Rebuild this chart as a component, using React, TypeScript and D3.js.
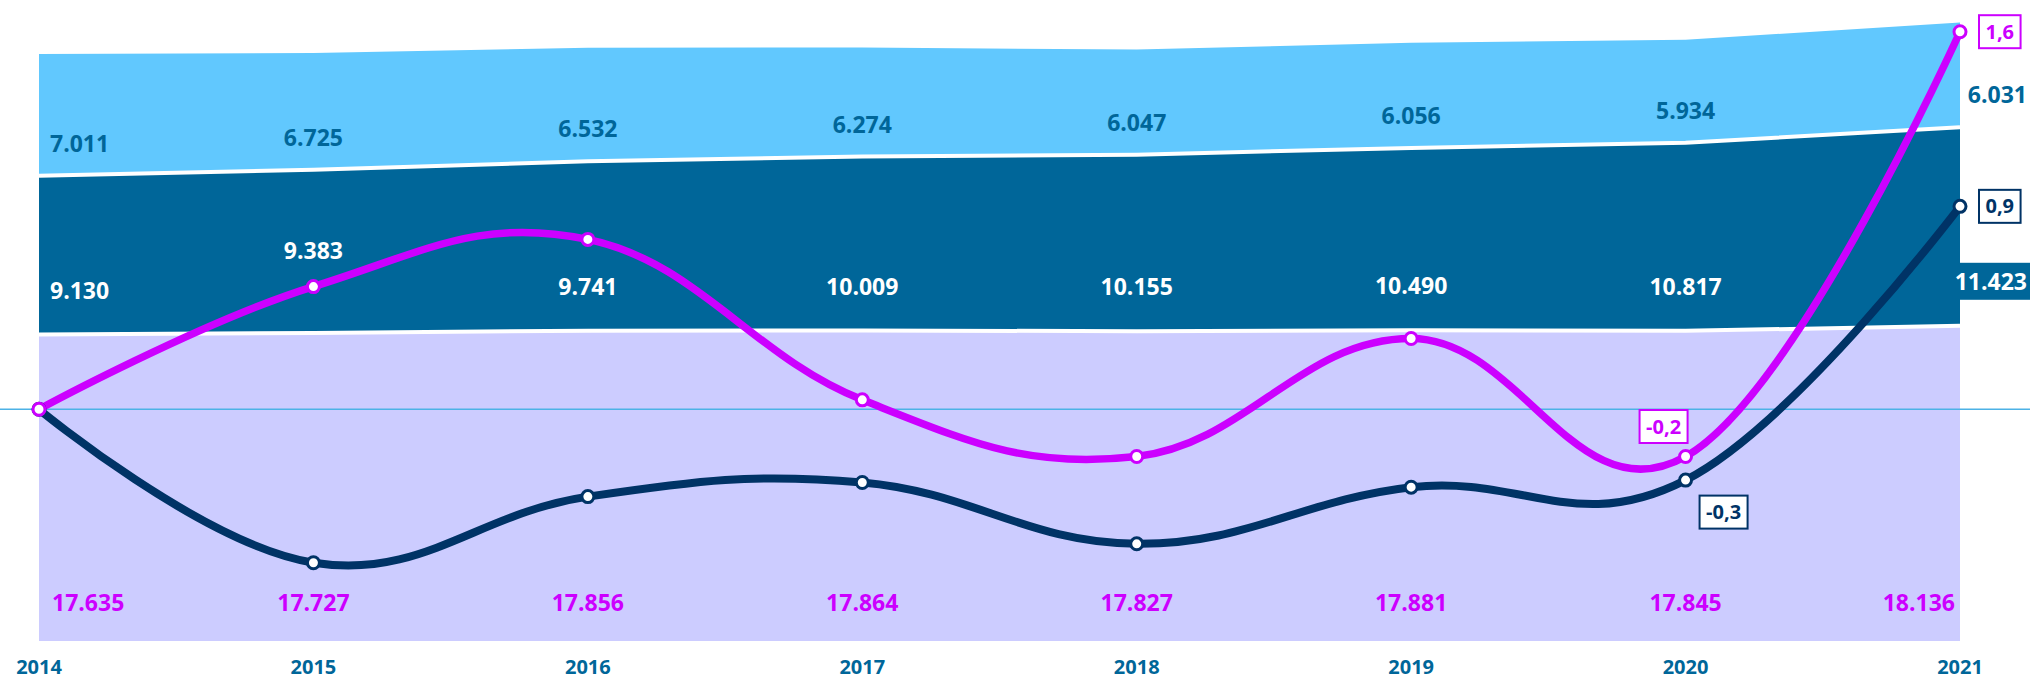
import React from "react";
import * as d3 from "d3";

// ---------- data ----------
const years = ["2014", "2015", "2016", "2017", "2018", "2019", "2020", "2021"];
const bottomValues = [17635, 17727, 17856, 17864, 17827, 17881, 17845, 18136];
const middleValues = [9130, 9383, 9741, 10009, 10155, 10490, 10817, 11423];
const topValues = [7011, 6725, 6532, 6274, 6047, 6056, 5934, 6031];
const rateViolet = [0, 0.52, 0.72, 0.04, -0.2, 0.3, -0.2, 1.6];
const rateNavy = [0, -0.65, -0.37, -0.31, -0.57, -0.33, -0.3, 0.86];
const labeledRateYears = ["2020", "2021"];

// ---------- style ----------
const W = 2030;
const H = 681;
const C_TOP = "#61C8FE";
const C_MID = "#006699";
const C_BOT = "#CCCCFF";
const C_VIOLET = "#CC00FF";
const C_NAVY = "#003366";
const C_ZERO = "#4CB2E6";
const FONT = "'Open Sans', 'DejaVu Sans', sans-serif";

const locale = d3.formatLocale({
  decimal: ",",
  thousands: ".",
  grouping: [3],
  currency: ["", "€"],
  minus: "-",
});
const fmtInt = locale.format(",d");
const fmtRate = locale.format(".1f");

let measureCtx: CanvasRenderingContext2D | null = null;
function textWidth(t: string, size: number, weight = 700) {
  if (!measureCtx) {
    const c = document.createElement("canvas");
    measureCtx = c.getContext("2d");
  }
  if (!measureCtx) return t.length * size * 0.58;
  measureCtx.font = `${weight} ${size}px ${FONT}`;
  return measureCtx.measureText(t).width;
}

export default function App() {
  const x = d3.scalePoint<string>().domain(years).range([39, 1960]);
  const yArea = d3.scaleLinear().domain([0, 36880]).range([641, 0]);
  const zeroY = 409.3;
  const pxPerUnit = 236;
  const yRate = d3
    .scaleLinear()
    .domain([-1, 1.7])
    .range([zeroY + pxPerUnit, zeroY - 1.7 * pxPerUnit]);

  const table = years.map((y, i) => ({
    year: y,
    bottom: bottomValues[i],
    middle: middleValues[i],
    top: topValues[i],
  }));
  const keys = ["bottom", "middle", "top"];
  const stacked = d3.stack<any>().keys(keys)(table);
  const colors: Record<string, string> = { bottom: C_BOT, middle: C_MID, top: C_TOP };

  const area = d3
    .area<any>()
    .x((d) => x(d.data.year)!)
    .y0((d) => yArea(d[0]))
    .y1((d) => yArea(d[1]));
  const topLine = d3
    .line<any>()
    .x((d) => x(d.data.year)!)
    .y((d) => yArea(d[1]));

  const rateLine = d3
    .line<number>()
    .x((_, i) => x(years[i])!)
    .y((d) => yRate(d))
    .curve(d3.curveCardinal.tension(-0.2));

  const lastYear = years[years.length - 1];
  const lastIdx = years.length - 1;
  const FS = 23;
  const FS_BOX = 20;

  // band labels
  const bandLabels: any[] = [];
  years.forEach((yr, i) => {
    const xp = x(yr)!;
    const s0 = stacked[0][i];
    const s1 = stacked[1][i];
    const lavTop = yArea(s0[1]);
    const boundary = yArea(s1[1]);
    const isFirst = i === 0;
    const isLast = i === lastIdx;
    bandLabels.push({
      key: "t" + i,
      text: fmtInt(topValues[i]),
      x: isFirst ? xp + 11 : isLast ? W - 3 : xp,
      y: boundary - 32,
      anchor: isFirst ? "start" : isLast ? "end" : "middle",
      fill: C_MID,
    });
    let my = lavTop - 44;
    const vy = yRate(rateViolet[i]);
    if (Math.abs(vy - my) < 30) my = vy - 36;
    bandLabels.push({
      key: "m" + i,
      text: fmtInt(middleValues[i]),
      x: isFirst ? xp + 11 : isLast ? W - 3 : xp,
      y: my,
      anchor: isFirst ? "start" : isLast ? "end" : "middle",
      fill: "#FFFFFF",
      bg: isLast,
    });
    bandLabels.push({
      key: "b" + i,
      text: fmtInt(bottomValues[i]),
      x: isFirst ? xp + 13 : isLast ? xp - 5 : xp,
      y: yArea(0) - 38,
      anchor: isFirst ? "start" : isLast ? "end" : "middle",
      fill: C_VIOLET,
    });
  });

  // rate boxes
  const boxes: any[] = [];
  const addBox = (series: number[], color: string, yr: string, place: string) => {
    const i = years.indexOf(yr);
    const px = x(yr)!;
    const py = yRate(series[i]);
    const text = fmtRate(series[i]);
    const w = textWidth(text, FS_BOX) + 13;
    const h = 33;
    let bx = px + 19;
    let by = py - h / 2;
    if (place === "aboveLeft") {
      bx = px - 22 - w / 2;
      by = py - 30 - h / 2;
    } else if (place === "belowRight") {
      bx = px + 14;
      by = py + 32 - h / 2;
    }
    boxes.push({ key: color + yr, text, x: bx, y: by, w, h, color });
  };
  labeledRateYears.forEach((yr) => {
    const isLast = yr === lastYear;
    addBox(rateViolet, C_VIOLET, yr, isLast ? "right" : "aboveLeft");
    addBox(rateNavy, C_NAVY, yr, isLast ? "right" : "belowRight");
  });

  return (
    <svg
      width={W}
      height={H}
      style={{ position: "absolute", left: 0, top: 0, background: "#FFFFFF" }}
      fontFamily={FONT}
    >
      <rect x={0} y={0} width={W} height={H} fill="#FFFFFF" />
      {stacked.map((s) => (
        <path key={s.key} d={area(s)!} fill={colors[s.key]} />
      ))}
      {stacked.slice(0, 2).map((s) => (
        <path key={"w" + s.key} d={topLine(s)!} fill="none" stroke="#FFFFFF" strokeWidth={4} />
      ))}
      <line x1={0} x2={W} y1={yRate(0)} y2={yRate(0)} stroke={C_ZERO} strokeWidth={1.5} />

      {bandLabels.map((l) =>
        l.bg ? (
          <g key={l.key}>
            <rect
              x={x(lastYear)!}
              y={l.y - 19}
              width={W - x(lastYear)!}
              height={37}
              fill={C_MID}
            />
            <text x={l.x} y={l.y} dy="0.35em" textAnchor={l.anchor} fill={l.fill} fontSize={FS} fontWeight={700}>
              {l.text}
            </text>
          </g>
        ) : (
          <text key={l.key} x={l.x} y={l.y} dy="0.35em" textAnchor={l.anchor} fill={l.fill} fontSize={FS} fontWeight={700}>
            {l.text}
          </text>
        )
      )}

      <path d={rateLine(rateNavy)!} fill="none" stroke={C_NAVY} strokeWidth={8} />
      <path d={rateLine(rateViolet)!} fill="none" stroke={C_VIOLET} strokeWidth={7.5} />
      {rateNavy.map((v, i) => (
        <circle key={"n" + i} cx={x(years[i])!} cy={yRate(v)} r={6} fill="#FFFFFF" stroke={C_NAVY} strokeWidth={3} />
      ))}
      {rateViolet.map((v, i) => (
        <circle key={"v" + i} cx={x(years[i])!} cy={yRate(v)} r={6} fill="#FFFFFF" stroke={C_VIOLET} strokeWidth={3} />
      ))}

      {boxes.map((b) => (
        <g key={b.key}>
          <rect x={b.x} y={b.y} width={b.w} height={b.h} fill="#FFFFFF" stroke={b.color} strokeWidth={2} />
          <text x={b.x + b.w / 2} y={b.y + b.h / 2} dy="0.35em" textAnchor="middle" fill={b.color} fontSize={FS_BOX} fontWeight={700}>
            {b.text}
          </text>
        </g>
      ))}

      {years.map((yr) => (
        <text key={"x" + yr} x={x(yr)!} y={667} dy="0.35em" textAnchor="middle" fill={C_MID} fontSize={20} fontWeight={700}>
          {yr}
        </text>
      ))}
    </svg>
  );
}
